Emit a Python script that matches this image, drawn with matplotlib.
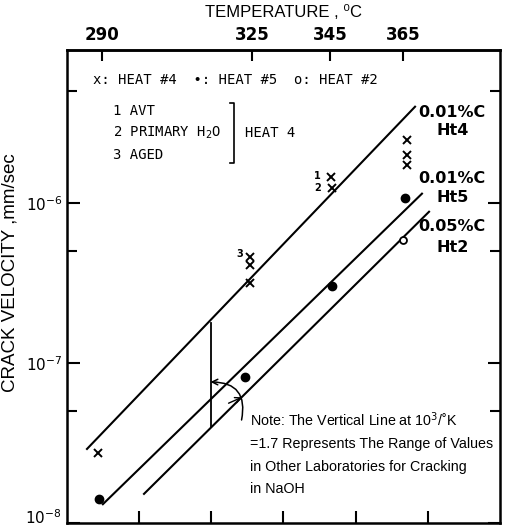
import matplotlib
matplotlib.use('Agg')
import matplotlib.pyplot as plt
from matplotlib.ticker import LogLocator, NullFormatter, FixedLocator
import numpy as np

# x axis is 10^3/T (1/K), temperature scale on top
heat4_x = [1.7785, 1.6732, 1.6732, 1.6732, 1.6170, 1.6160, 1.5644, 1.5644, 1.5644]
heat4_v = [2.74e-8, 4.6e-7, 4.1e-7, 3.16e-7, 1.45e-6, 1.24e-6, 2.48e-6, 2.0e-6, 1.73e-6]
heat5_x = [1.7778, 1.6766, 1.6164, 1.5658]
heat5_v = [1.41e-8, 8.2e-8, 3.03e-7, 1.07e-6]
heat2_x = [1.5672]
heat2_v = [5.87e-7]

# fitted lines for each heat
ht4_x = [1.7861, 1.5588]
ht4_v = [2.9e-8, 3.98e-6]
ht5_x = [1.7751, 1.5540]
ht5_v = [1.31e-8, 1.14e-6]
ht2_x = [1.7466, 1.5491]
ht2_v = [1.52e-8, 8.79e-7]

# range from other labs at 10^3/K = 1.7
range_x = [1.70, 1.70]
range_v = [3.98e-8, 1.78e-7]

temp_ticks = [290, 325, 345, 365]
inv_ticks = [1.75, 1.70, 1.65, 1.60, 1.55]
v_ticks = [1e-8, 1e-7, 1e-6]
v_labels = ['', '$10^{-7}$', '$10^{-6}$']

fig = plt.figure(figsize=(5.07, 5.30), dpi=100)
ax = fig.add_axes([0.132, 0.0132, 0.854, 0.8925])

ax.set_yscale('log')
ax.set_xlim(1.80, 1.50)
ax.set_ylim(1e-8, 9.0e-6)

ax.plot(ht4_x, ht4_v, color='black', lw=1.5)
ax.plot(ht5_x, ht5_v, color='black', lw=1.5)
ax.plot(ht2_x, ht2_v, color='black', lw=1.5)
ax.plot(range_x, range_v, color='black', lw=1.3)

ax.plot(heat4_x, heat4_v, 'x', color='black', ms=6, mew=1.4)
ax.plot(heat5_x, heat5_v, 'o', color='black', ms=6)
ax.plot(heat2_x, heat2_v, 'o', mfc='white', mec='black', ms=5, mew=1.3)

# small numbers beside heat 4 points
ax.text(1.6265, 1.47e-6, '1', fontsize=7, fontweight='bold', ha='center', va='center')
ax.text(1.6265, 1.24e-6, '2', fontsize=7, fontweight='bold', ha='center', va='center')
ax.text(1.6800, 4.8e-7, '3', fontsize=7, fontweight='bold', ha='center', va='center')

# axes styling
for s in ax.spines.values():
    s.set_linewidth(1.8)
ax.xaxis.set_major_locator(FixedLocator(inv_ticks))
ax.xaxis.set_major_formatter(NullFormatter())
ax.set_yticks(v_ticks, v_labels)
ax.yaxis.set_minor_locator(LogLocator(base=10, subs=[5]))
ax.yaxis.set_minor_formatter(NullFormatter())
ax.tick_params(axis='both', which='major', direction='in', length=9, width=1.5,
               top=False, right=True, labelsize=11, pad=3)
ax.tick_params(axis='y', which='minor', direction='in', length=7, width=1.5, right=True)
ax.tick_params(axis='x', which='minor', bottom=False)
ax.text(-0.012, -0.008, '$10^{-8}$', transform=ax.transAxes, fontsize=11,
        ha='right', va='bottom')
ax.set_ylabel('CRACK VELOCITY ,mm/sec', fontsize=13.5, family='Liberation Sans')
ax.yaxis.set_label_coords(-0.112, 0.53)

sec = ax.secondary_xaxis('top', functions=(lambda x: 1000.0 / np.asarray(x) - 273.15,
                                           lambda t: 1000.0 / (np.asarray(t) + 273.15)))
sec.set_xticks(temp_ticks)
sec.tick_params(direction='in', length=8, width=1.5, labelsize=12, pad=4)
for lbl in sec.get_xticklabels():
    lbl.set_fontweight('bold')
sec.set_xlabel('TEMPERATURE , \u2070C', fontsize=12, family=['Liberation Sans', 'DejaVu Sans'],
               labelpad=7)
sec.spines['top'].set_linewidth(1.8)

# key inside the plot
mono = 'DejaVu Sans Mono'
ax.text(0.06, 0.937, 'x: HEAT #4  \u2022: HEAT #5  o: HEAT #2', transform=ax.transAxes,
        fontsize=10, family=mono, va='center')
ax.text(0.106, 0.871, '1 AVT', transform=ax.transAxes, fontsize=10, family=mono, va='center')
ax.text(0.106, 0.825, '2 PRIMARY H$_2$O', transform=ax.transAxes, fontsize=10, family=mono,
        va='center')
ax.text(0.106, 0.778, '3 AGED', transform=ax.transAxes, fontsize=10, family=mono, va='center')
ax.plot([0.376, 0.385, 0.385, 0.376], [0.888, 0.888, 0.761, 0.761], transform=ax.transAxes,
        color='black', lw=1.2)
ax.text(0.411, 0.825, 'HEAT 4', transform=ax.transAxes, fontsize=10, family=mono, va='center')

# line labels
for y1, y2, top, bot in [(0.867, 0.830, '0.01%C', 'Ht4'),
                         (0.729, 0.689, '0.01%C', 'Ht5'),
                         (0.626, 0.583, '0.05%C', 'Ht2')]:
    ax.text(0.89, y1, top, transform=ax.transAxes, fontsize=11.5, fontweight='bold',
            ha='center', va='center')
    ax.text(0.89, y2, bot, transform=ax.transAxes, fontsize=11.5, fontweight='bold',
            ha='center', va='center')

# note and arrows
note = ('Note: The Vertical Line at 10$^3$/\u02daK\n=1.7 Represents The Range of Values\n'
        'in Other Laboratories for Cracking\nin NaOH')
ax.text(0.423, 0.238, note, transform=ax.transAxes, fontsize=10.3,
        family='Liberation Sans', va='top', ha='left', linespacing=1.75)
ax.annotate('', xy=(1.7005, 7.6e-8), xytext=(1.6790, 4.4e-8),
            arrowprops=dict(arrowstyle='->', color='black', lw=1.1,
                            connectionstyle='arc3,rad=0.6', shrinkA=0, shrinkB=0))
ax.annotate('', xy=(1.6787, 6.1e-8), xytext=(1.6880, 5.6e-8),
            arrowprops=dict(arrowstyle='->', color='black', lw=1.0, shrinkA=0, shrinkB=0))

fig.savefig('out.png', dpi=100)
